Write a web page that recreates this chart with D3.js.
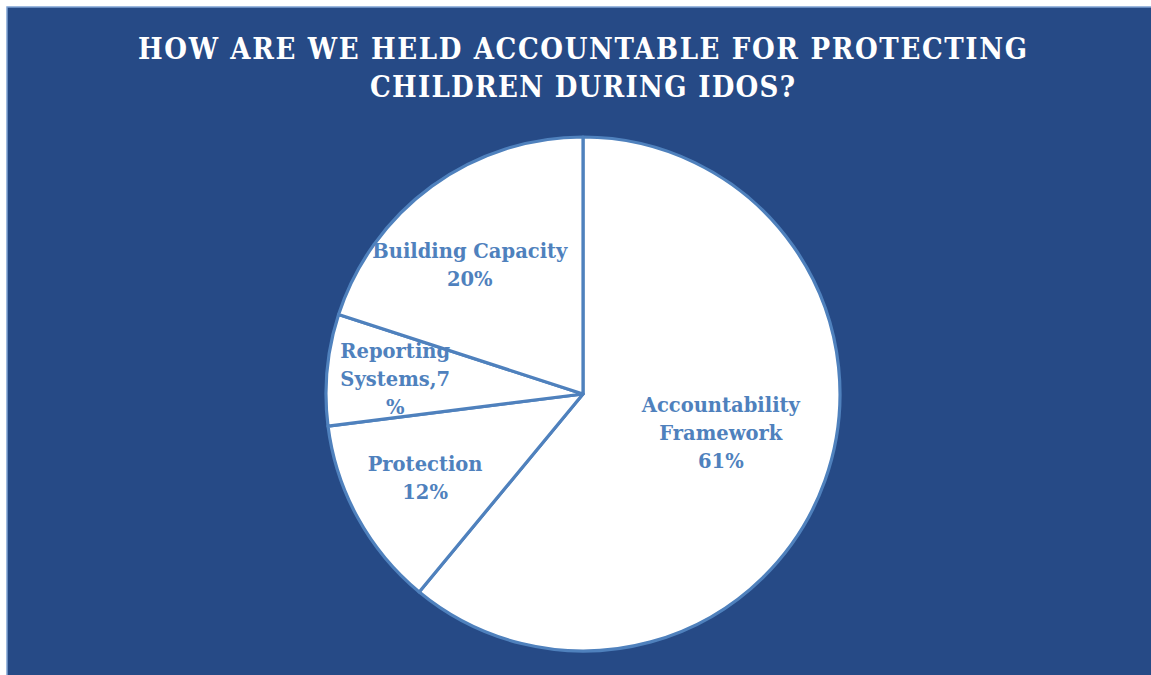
<!DOCTYPE html>
<html>
<head>
<meta charset="utf-8">
<script src="https://cdn.jsdelivr.net/npm/d3@7"></script>
<style>
  html, body { margin: 0; padding: 0; background: #fff; }
  svg { display: block; }
</style>
</head>
<body>
<div id="chart"></div>
<script>
const categories = ["Accountability Framework", "Protection", "Reporting Systems", "Building Capacity"];
const values = [61, 12, 7, 20];
// label text lines as they wrap in the picture
const labelLines = [
  ["Accountability", "Framework", "61%"],
  ["Protection", "12%"],
  ["Reporting", "Systems,7", "%"],
  ["Building Capacity", "20%"]
];
const titleLines = ["HOW ARE WE HELD ACCOUNTABLE FOR PROTECTING", "CHILDREN DURING IDOS?"];

document.addEventListener('DOMContentLoaded', () => {
    const width = 1151, height = 675;
    const cx = 583, cy = 394, radius = 257;
    const labelDist = [0.57, 0.71, 0.73, 0.65];
    const nudge = [[0, -10], [2, -3], [-1, 4], [-15, 7]];

    const svg = d3.select("#chart").append("svg")
        .attr("width", width)
        .attr("height", height);

    svg.append("rect")
        .attr("x", 7).attr("y", 7)
        .attr("width", width - 6).attr("height", height - 6)
        .attr("fill", "#264a86")
        .attr("stroke", "#7fa2d4")
        .attr("stroke-width", 1.5);

    const titleWidths = [889, 425];
    svg.selectAll(".title")
        .data(titleLines)
        .join("text")
        .attr("class", "title")
        .attr("x", width / 2 + 7)
        .attr("y", (d, i) => 59 + i * 38)
        .attr("text-anchor", "middle")
        .attr("textLength", (d, i) => titleWidths[i])
        .attr("lengthAdjust", "spacing")
        .style("font-family", "'DejaVu Serif Condensed', 'DejaVu Serif', serif")
        .style("font-weight", "bold")
        .style("font-size", "29px")
        .style("fill", "#ffffff")
        .text(d => d);

    const pie = d3.pie().sort(null).value(d => d);
    const arcs = pie(values);
    const arc = d3.arc().innerRadius(0).outerRadius(radius);

    const g = svg.append("g").attr("transform", `translate(${cx},${cy})`);

    g.selectAll(".slice")
        .data(arcs)
        .join("path")
        .attr("class", "slice")
        .attr("d", arc)
        .attr("fill", "#ffffff")
        .attr("stroke", "#4f81bd")
        .attr("stroke-width", 3.2)
        .attr("stroke-linejoin", "round");

    const lineH = 28;
    const labels = g.selectAll(".label")
        .data(arcs)
        .join("text")
        .attr("class", "label")
        .attr("text-anchor", "middle")
        .style("font-family", "'DejaVu Serif', serif")
        .style("font-weight", "bold")
        .style("font-size", "19.5px")
        .style("fill", "#4f81bd")
        .attr("transform", (d, i) => {
            const a = (d.startAngle + d.endAngle) / 2;
            const r = radius * labelDist[i];
            return `translate(${Math.sin(a) * r + nudge[i][0]},${-Math.cos(a) * r + nudge[i][1]})`;
        });

    labels.each(function(d, i) {
        const lines = labelLines[i];
        const top = -(lines.length - 1) * lineH / 2 + 6;
        d3.select(this).selectAll("tspan")
            .data(lines)
            .join("tspan")
            .attr("x", 0)
            .attr("y", (l, j) => top + j * lineH)
            .text(l => l);
    });
});
</script>
</body>
</html>
